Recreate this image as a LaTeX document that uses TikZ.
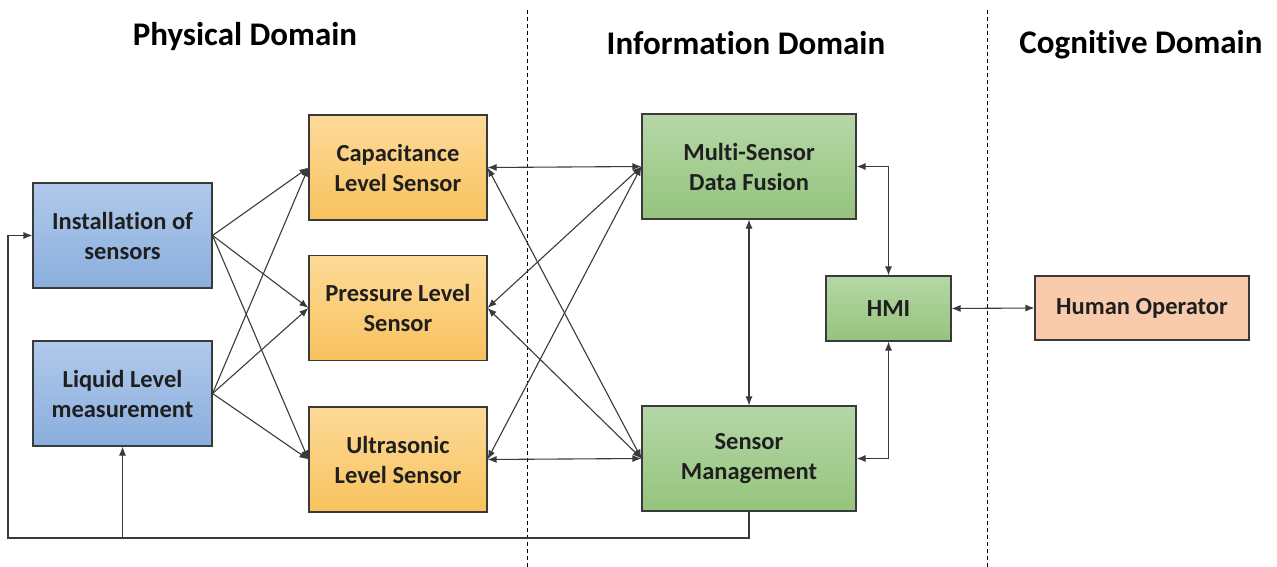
\documentclass[tikz,border=0pt]{standalone}
\usepackage{fontspec}
\setmainfont{Carlito}[Ligatures=CommonOff]
\usetikzlibrary{arrows.meta}
\definecolor{edgegray}{HTML}{3A3A3A}
\definecolor{blueT}{HTML}{B0C9EB}
\definecolor{blueB}{HTML}{8AAEDD}
\definecolor{orangeT}{HTML}{FDDA98}
\definecolor{orangeB}{HTML}{F8C25E}
\definecolor{greenT}{HTML}{B5D7A6}
\definecolor{greenB}{HTML}{95C47E}
\definecolor{salmon}{HTML}{F8CBAD}
\tikzset{
  box/.style={draw=edgegray, line width=1.1pt, minimum width=#1, align=center,
    font=\fontsize{24.5}{30}\selectfont\bfseries, text=black!88},
  bluebox/.style={box=179pt, minimum height=105pt, top color=blueT, bottom color=blueB},
  orangebox/.style={box=178pt, minimum height=105pt, top color=orangeT, bottom color=orangeB},
  greenbox/.style={box=214pt, minimum height=105pt, top color=greenT, bottom color=greenB},
  hmibox/.style={box=125pt, minimum height=65pt, top color=greenT, bottom color=greenB},
  opbox/.style={box=214pt, minimum height=64pt, fill=salmon},
  title/.style={font=\fontsize{33}{36}\selectfont\bfseries},
  conn/.style={draw=edgegray, line width=1.1pt, -{Latex[length=9pt,width=7pt]}},
  biconn/.style={draw=edgegray, line width=1.1pt, {Latex[length=9pt,width=7pt]}-{Latex[length=9pt,width=7pt]}},
  divider/.style={draw=black, line width=0.7pt, dash pattern=on 4pt off 3pt},
}
\begin{document}
\begin{tikzpicture}[x=1pt,y=-1pt]
\useasboundingbox (0,0) rectangle (1277,567);

% domain dividers
\coordinate (d1t) at (527,10);
\coordinate (d1b) at (527,567);
\coordinate (d2t) at (987,10);
\coordinate (d2b) at (987,567);
\draw[divider] (d1t) -- (d1b);
\draw[divider] (d2t) -- (d2b);

% domain titles
\node[title] (tphys) at (245,37) {Physical Domain};
\node[title] (tinfo) at (746,43) {Information Domain};
\node[title] (tcog) at (1141,45) {Cognitive Domain};

% boxes
\node[bluebox] (inst) at (122.5,235.5) {Installation of\\sensors};
\node[bluebox] (liq) at (122.5,393.5) {Liquid Level\\measurement};
\node[orangebox] (cap) at (398,167.5) {Capacitance\\Level Sensor};
\node[orangebox] (pres) at (398,308) {Pressure Level\\Sensor};
\node[orangebox] (ultra) at (398,459.5) {Ultrasonic\\Level Sensor};
\node[greenbox] (fusion) at (749,166.5) {Multi-Sensor\\Data Fusion};
\node[greenbox] (mgmt) at (749,458.5) {Sensor\\Management};
\node[hmibox] (hmi) at (888.5,308.5) {HMI};
\node[opbox] (op) at (1142,308) {Human Operator};

% physical layer to sensors
\foreach \s in {cap,pres,ultra}{
  \draw[conn] (inst.east) -- (\s.west);
  \draw[conn] (liq.east) -- (\s.west);
}

% sensors to information processing
\foreach \s in {cap,pres,ultra}{
  \draw[biconn] (\s.east) -- (fusion.west);
  \draw[biconn] (\s.east) -- (mgmt.west);
}

% information domain links
\draw[biconn] (fusion.south) -- (mgmt.north);
\draw[biconn] (fusion.east) -| (hmi.north);
\draw[biconn] (mgmt.east) -| (hmi.south);
\draw[biconn] (hmi.east) -- (op.west);

% feedback from sensor management
\coordinate (fbl) at (8,538);
\coordinate (fbr) at (749,538);
\coordinate (fbm) at (122.5,538);
\draw[conn] (mgmt.south) -- (fbr) -- (fbl) |- (inst.west);
\draw[conn] (fbm) -- (liq.south);
\end{tikzpicture}
\end{document}
